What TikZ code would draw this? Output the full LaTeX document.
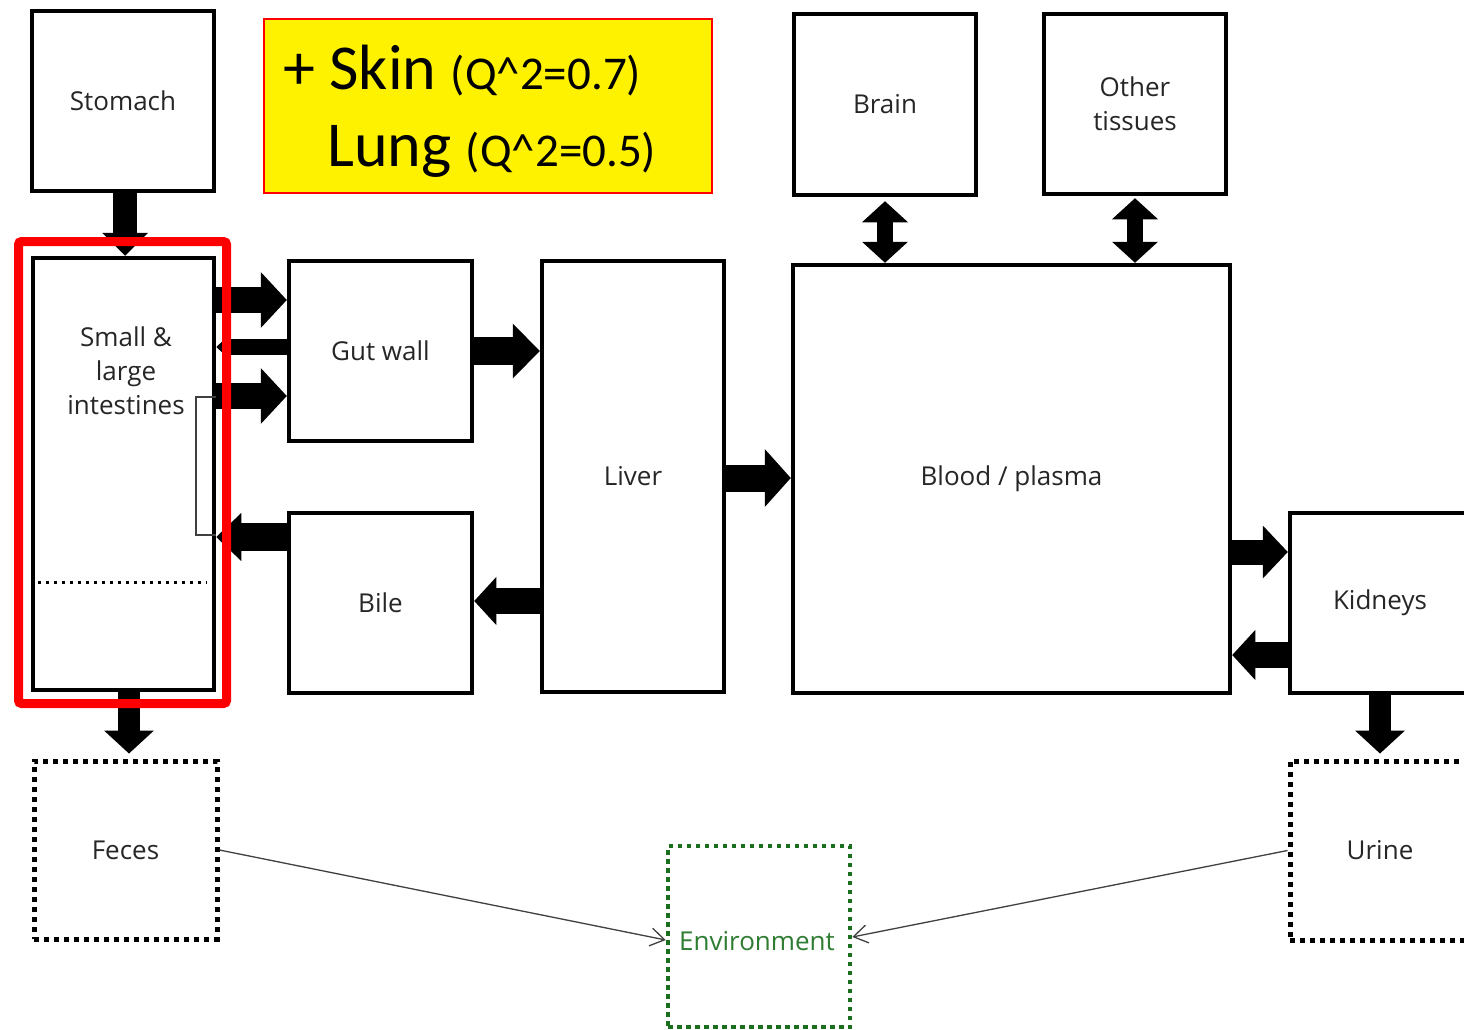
\documentclass[tikz,border=0pt]{standalone}
\usepackage{fontspec}
\setmainfont{Open Sans}
\newfontfamily\calfont{Carlito}
\usetikzlibrary{arrows.meta}
\definecolor{txt}{HTML}{262626}
\definecolor{envgreen}{HTML}{2E7D32}
\definecolor{envdot}{HTML}{1B6E1B}
\definecolor{thinline}{HTML}{404040}
\begin{document}
\begin{tikzpicture}[x=1pt,y=-1pt,
  lbl/.style={font=\fontsize{26}{34}\selectfont, text=txt, align=center},
  box/.style={draw=black, line width=4.5pt, inner sep=0pt, lbl},
  dotbox/.style={draw=black, line width=5pt, dash pattern=on 5pt off 5pt, inner sep=0pt, lbl},
  barrow/.style n args={3}{draw=black, line width=#1, -{Triangle[width=#2,length=#3,line width=0pt]}},
  dbarrow/.style n args={3}{draw=black, line width=#1, {Triangle[width=#2,length=#3,line width=0pt]}-{Triangle[width=#2,length=#3,line width=0pt]}},
  thinarrow/.style={draw=thinline, line width=1.3pt, -{Straight Barb[length=14pt,width=18pt,line width=1.3pt]}}
]
\useasboundingbox (0,0) rectangle (1464,1030);
\clip (0,0) rectangle (1464,1030);
\fill[white] (0,0) rectangle (1464,1030);

% boxes
\node[box, minimum width=182, minimum height=180] (stomach) at (123,101) {Stomach};
\node[box, minimum width=181, minimum height=432] (intest) at (123.5,474) {};
\node[lbl] (intestT) at (126,371) {Small \&\\large\\intestines};
\node[box, minimum width=183, minimum height=180] (gut) at (380.5,351) {Gut wall};
\node[box, minimum width=183, minimum height=180] (bile) at (380.5,603) {Bile};
\node[box, minimum width=182, minimum height=431] (liver) at (633,476.5) {Liver};
\node[box, minimum width=437, minimum height=428] (blood) at (1011.5,479) {Blood / plasma};
\node[box, minimum width=182, minimum height=181] (brain) at (885,104.5) {Brain};
\node[box, minimum width=182, minimum height=180] (other) at (1135,104) {Other\\tissues};
\node[box, minimum width=180, minimum height=180] (kid) at (1380,603) {Kidneys};
\node[dotbox, minimum width=183, minimum height=178] (feces) at (125.5,850) {Feces};
\node[dotbox, minimum width=180, minimum height=179] (urine) at (1380,850.5) {Urine};
\node[draw=envdot, line width=4.5pt, dash pattern=on 4.5pt off 4.5pt, inner sep=0pt, minimum width=182, minimum height=181] (env) at (759,936.5) {};
\node[lbl, text=envgreen] (envT) at (757,941) {Environment};

% dotted separator and bracket inside intestines
\draw[black, line width=3pt, dash pattern=on 3pt off 5pt] (38,582) -- (207,582);
\draw[thinline, line width=1.2pt] (intest.east |- 0,397) -- (196,397) -- (196,535) -- (intest.east |- 0,535);

% block arrows
\draw[barrow={24pt}{46pt}{23pt}] (stomach.south -| 125,0) -- (intest.north -| 125,0);
\draw[barrow={26pt}{56pt}{26pt}] (intest.east |- 0,300) -- (gut.west |- 0,300);
\draw[barrow={16pt}{26pt}{14pt}] (gut.west |- 0,347) -- (intest.east |- 0,347);
\draw[barrow={26pt}{56pt}{26pt}] (intest.east |- 0,396) -- (gut.west |- 0,396);
\draw[barrow={28pt}{55pt}{27pt}] (gut.east |- 0,351) -- (liver.west |- 0,351);
\draw[barrow={27pt}{58pt}{26pt}] (liver.east |- 0,478) -- (blood.west |- 0,478);
\draw[barrow={26pt}{48pt}{22pt}] (liver.west |- 0,601) -- (bile.east |- 0,601);
\draw[barrow={28pt}{48pt}{25pt}] (bile.west |- 0,537) -- (intest.east |- 0,537);
\draw[dbarrow={16pt}{46pt}{21pt}] (brain.south) ++(0,4) -- (brain.south |- blood.north);
\draw[dbarrow={16pt}{46pt}{21pt}] (other.south) ++(0,2) -- (other.south |- blood.north);
\draw[barrow={25pt}{53pt}{25pt}] (blood.east |- 0,552) -- (kid.west |- 0,552);
\draw[barrow={26pt}{50pt}{23pt}] (kid.west |- 0,655) -- (blood.east |- 0,655);
\draw[barrow={22pt}{50pt}{23pt}, shorten >=5pt] (kid.south) -- (kid.south |- urine.north);
\draw[barrow={22pt}{50pt}{23pt}, shorten >=5pt] (intest.south -| 129,0) -- (feces.north -| 129,0);

% thin arrows to environment
\draw[thinarrow] (feces.east) -- (env.west |- 0,940);
\draw[thinarrow] (urine.west) -- (env.east |- 0,937);

% red highlight
\node[draw=red, line width=9pt, rounded corners=3pt, inner sep=0pt, minimum width=208, minimum height=462] (focus) at (122.5,472.5) {};

% yellow note
\node[draw=red, fill=yellow, line width=1.5pt, inner sep=0pt, minimum width=448, minimum height=174] (note) at (488,106) {};
\node[anchor=base west, inner sep=0pt, font=\calfont\fontsize{64}{64}\selectfont] (skin) at (283,90) {+ Skin {\fontsize{47}{47}\selectfont(Q\textasciicircum2=0.7)}};
\node[anchor=base west, inner sep=0pt, font=\calfont\fontsize{64}{64}\selectfont] (lung) at (327,167) {Lung {\fontsize{47}{47}\selectfont(Q\textasciicircum2=0.5)}};
\end{tikzpicture}
\end{document}
